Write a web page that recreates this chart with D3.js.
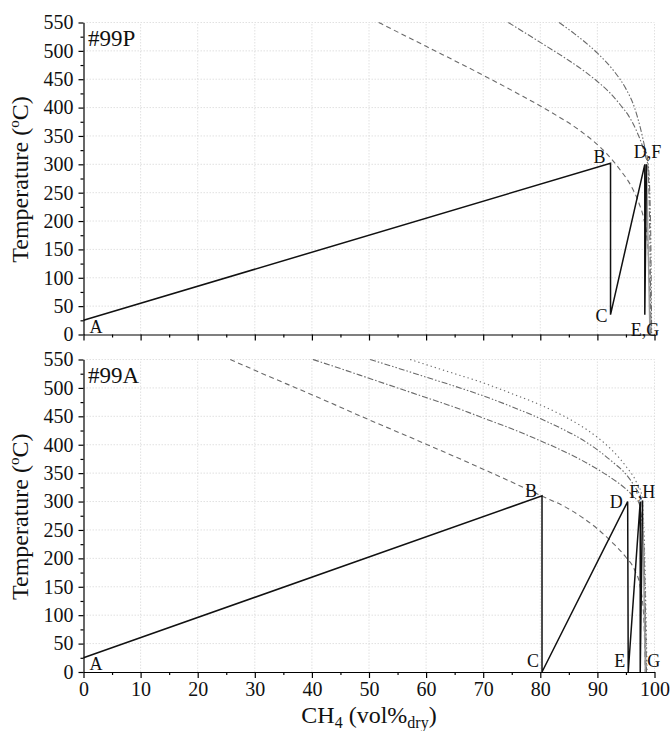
<!DOCTYPE html>
<html>
<head>
<meta charset="utf-8">
<script src="https://cdn.jsdelivr.net/npm/d3@7"></script>
<style>
  html, body { margin: 0; padding: 0; background: #fff; }
  svg { display: block; font-family: "Liberation Serif", "Times New Roman", serif; }
</style>
</head>
<body>
<svg id="chart" width="672" height="731"></svg>
<script>
// ---- axis ticks ----
const xTicks = d3.range(0, 101, 10);
const xMinorTicks = d3.range(5, 100, 10);
const tempTicks = d3.range(0, 551, 50);
const tempMinorTicks = d3.range(25, 550, 50);

// ---- #99P : operating path (CH4 vol%, temperature) ----
const pathP_ch4  = [0, 92.3, 92.3, 98.3, 98.3, 98.6];
const pathP_temp = [25, 302, 35, 300, 35, 300];
const tailP_ch4  = [98.6, 99.2];
const tailP_temp = [300, 0];
const labelsP      = ["A", "B", "C", "D,F", "E,G"];
const labelsP_ch4  = [0, 92.3, 92.3, 98.3, 98.3];
const labelsP_temp = [0, 302, 35, 300, 0];

// ---- #99P : equilibrium curves ----
const eqP1_ch4  = [51.7, 60, 70, 76, 82.2, 87, 91.7, 94, 96, 97.3, 98.1, 98.7, 99.1, 99.3];
const eqP1_temp = [550, 508, 457, 425, 390, 359, 318, 290, 260, 231, 205, 170, 100, 0];
const eqP2_ch4  = [74.4, 80, 85, 88, 90, 92, 94, 95.5, 96.8, 97.8, 98.5, 98.8, 99.1, 99.4];
const eqP2_temp = [550, 515, 483, 462, 446, 428, 405, 385, 360, 335, 312, 300, 220, 0];
const eqP3_ch4  = [83.3, 86, 90, 93, 95, 96.5, 97.5, 98.3, 98.9, 99.3, 99.5];
const eqP3_temp = [550, 530, 496, 463, 433, 400, 365, 330, 300, 200, 0];

// ---- #99A : operating path ----
const pathA_ch4  = [0, 80.3, 80.3, 95.3, 95.4, 97.5, 97.5, 97.9];
const pathA_temp = [25, 310, 0, 300, 0, 300, 0, 302];
const tailA_ch4  = [97.9, 98.4];
const tailA_temp = [302, 0];
const labelsA      = ["A", "B", "C", "D", "F,H", "E", "G"];
const labelsA_ch4  = [0, 80.3, 80.3, 95.3, 97.5, 95.4, 98.4];
const labelsA_temp = [0, 310, 0, 300, 300, 0, 0];

// ---- #99A : equilibrium curves ----
const eqA1_ch4  = [25.7, 30, 40, 50, 60, 70, 80, 85, 90, 93, 95, 96.5, 97.5, 98.1, 98.4];
const eqA1_temp = [550, 531, 488, 444, 401, 357, 311, 287, 252, 224, 202, 180, 150, 100, 0];
const eqA2_ch4  = [40.2, 45, 50, 55, 60, 65, 70, 75, 80, 84, 87, 90, 92.5, 95, 96.5, 97.3, 98.1, 98.5];
const eqA2_temp = [550, 534, 517, 500, 483, 466, 447, 428, 407, 389, 374, 357, 341, 322, 307, 297, 220, 0];
const eqA3_ch4  = [50.2, 55, 60, 65, 70, 75, 80, 84, 87, 90, 92.5, 95, 96.8, 97.7, 98.2, 98.6];
const eqA3_temp = [550, 535, 519, 503, 486, 467, 446, 427, 411, 391, 371, 348, 322, 305, 200, 0];
const eqA4_ch4  = [57.2, 60, 65, 70, 75, 80, 84, 87, 90, 92.5, 95, 96.8, 97.8, 98.3, 98.7];
const eqA4_temp = [550, 541, 525, 509, 490, 470, 451, 434, 413, 391, 362, 335, 310, 200, 0];

// ---- layout ----
const svg = d3.select("#chart");
const xLeft = 83.5, xRight = 654.5;
const panels = [
  { name: "#99P", top: 22.5, bottom: 334.5, showXLabels: false,
    path: [pathP_ch4, pathP_temp], tail: [tailP_ch4, tailP_temp],
    curves: [[eqP1_ch4, eqP1_temp, "5,3.5"], [eqP2_ch4, eqP2_temp, "6,2,1.5,2"], [eqP3_ch4, eqP3_temp, "6,2,1.5,2,1.5,2"]],
    labels: [labelsP, labelsP_ch4, labelsP_temp],
    offsets: [[6, -2, "start"], [-5, 0, "end"], [-3, 7, "end"], [-11, -6, "start"], [-14, 1, "start"]] },
  { name: "#99A", top: 359.5, bottom: 672, showXLabels: true,
    path: [pathA_ch4, pathA_temp], tail: [tailA_ch4, tailA_temp],
    curves: [[eqA1_ch4, eqA1_temp, "5,3.5"], [eqA2_ch4, eqA2_temp, "6,2,1.5,2"], [eqA3_ch4, eqA3_temp, "6,2,1.5,2,1.5,2"], [eqA4_ch4, eqA4_temp, "1.3,3"]],
    labels: [labelsA, labelsA_ch4, labelsA_temp],
    offsets: [[6, -2, "start"], [-5, 1, "end"], [-3, -5, "end"], [-5, 6, "end"], [-11, -4, "start"], [-3, -5, "end"], [2, -5, "start"]] }
];

const x = d3.scaleLinear().domain([0, 100]).range([xLeft, xRight]);

panels.forEach(p => {
  const y = d3.scaleLinear().domain([0, 550]).range([p.bottom, p.top]);
  const g = svg.append("g");

  // grid
  const grid = g.append("g").attr("stroke", "#d9d9d9").attr("stroke-width", 0.8).attr("stroke-dasharray", "1.5,1.5");
  grid.selectAll("line.v").data(xTicks.filter(d => d > 0)).join("line")
    .attr("x1", d => x(d)).attr("x2", d => x(d)).attr("y1", y(0)).attr("y2", y(550));
  grid.selectAll("line.h").data(tempTicks.filter(d => d > 0)).join("line")
    .attr("x1", x(0)).attr("x2", x(100)).attr("y1", d => y(d)).attr("y2", d => y(d));

  // equilibrium curves
  const curveLine = d3.line().x(d => x(d[0])).y(d => y(d[1])).curve(d3.curveMonotoneX);
  p.curves.forEach(([cx, cy, dash]) => {
    const pts = cx.map((v, i) => [v, cy[i]]);
    g.append("path").attr("d", curveLine(pts))
      .attr("fill", "none").attr("stroke", "#6a6a6a").attr("stroke-width", 1.1)
      .attr("stroke-dasharray", dash);
  });

  // operating path
  const lin = d3.line().x(d => x(d[0])).y(d => y(d[1]));
  const tailPts = p.tail[0].map((v, i) => [v, p.tail[1][i]]);
  g.append("path").attr("d", lin(tailPts)).attr("fill", "none")
    .attr("stroke", "#9a9a9a").attr("stroke-width", 1.4);
  const pathPts = p.path[0].map((v, i) => [v, p.path[1][i]]);
  g.append("path").attr("d", lin(pathPts)).attr("fill", "none")
    .attr("stroke", "#111").attr("stroke-width", 1.5);

  // axes
  g.append("g").attr("transform", `translate(${xLeft},0)`)
    .call(d3.axisLeft(y).tickValues(tempTicks).tickSize(5).tickPadding(5).tickSizeOuter(0));
  g.append("g").attr("transform", `translate(${xLeft},0)`)
    .call(d3.axisLeft(y).tickValues(tempMinorTicks).tickSize(3).tickFormat("").tickSizeOuter(0))
    .select(".domain").remove();
  g.append("g").attr("transform", `translate(0,${p.bottom})`)
    .call(d3.axisBottom(x).tickValues(xTicks).tickSize(6).tickPadding(4).tickSizeOuter(0)
      .tickFormat(p.showXLabels ? d3.format("d") : ""));
  g.append("g").attr("transform", `translate(0,${p.bottom})`)
    .call(d3.axisBottom(x).tickValues(xMinorTicks).tickSize(3).tickFormat("").tickSizeOuter(0))
    .select(".domain").remove();
  g.selectAll(".domain, .tick line").attr("stroke", "#000").attr("stroke-width", 1.2);
  g.selectAll(".tick text").attr("font-size", 20).attr("fill", "#111")
    .attr("font-family", "Liberation Serif, Times New Roman, serif");

  // panel name
  g.append("text").attr("x", x(0) + 4.5).attr("y", y(550) + 23)
    .attr("font-size", 23).attr("fill", "#111").text(p.name);

  // point labels
  const [names, lx, ly] = p.labels;
  names.forEach((t, i) => {
    const [dx, dy, anchor] = p.offsets[i];
    g.append("text").attr("x", x(lx[i]) + dx).attr("y", y(ly[i]) + dy)
      .attr("text-anchor", anchor).attr("font-size", 18).attr("fill", "#111").text(t);
  });

  // y title
  const mid = (p.top + p.bottom) / 2 + 1;
  const yt = g.append("text").attr("transform", `translate(28,${mid}) rotate(-90)`)
    .attr("text-anchor", "middle").attr("font-size", 24).attr("fill", "#111");
  yt.append("tspan").text("Temperature (");
  yt.append("tspan").attr("font-size", 15).attr("dy", -9).text("o");
  yt.append("tspan").attr("dy", 9).text("C)");
});

// x title
const xt = svg.append("text").attr("x", x(50)).attr("y", 723)
  .attr("text-anchor", "middle").attr("font-size", 24).attr("fill", "#111");
xt.append("tspan").text("CH");
xt.append("tspan").attr("font-size", 16).attr("dy", 5).text("4");
xt.append("tspan").attr("dy", -5).text(" (vol%");
xt.append("tspan").attr("font-size", 16).attr("dy", 5).text("dry");
xt.append("tspan").attr("dy", -5).text(")");
</script>
</body>
</html>
